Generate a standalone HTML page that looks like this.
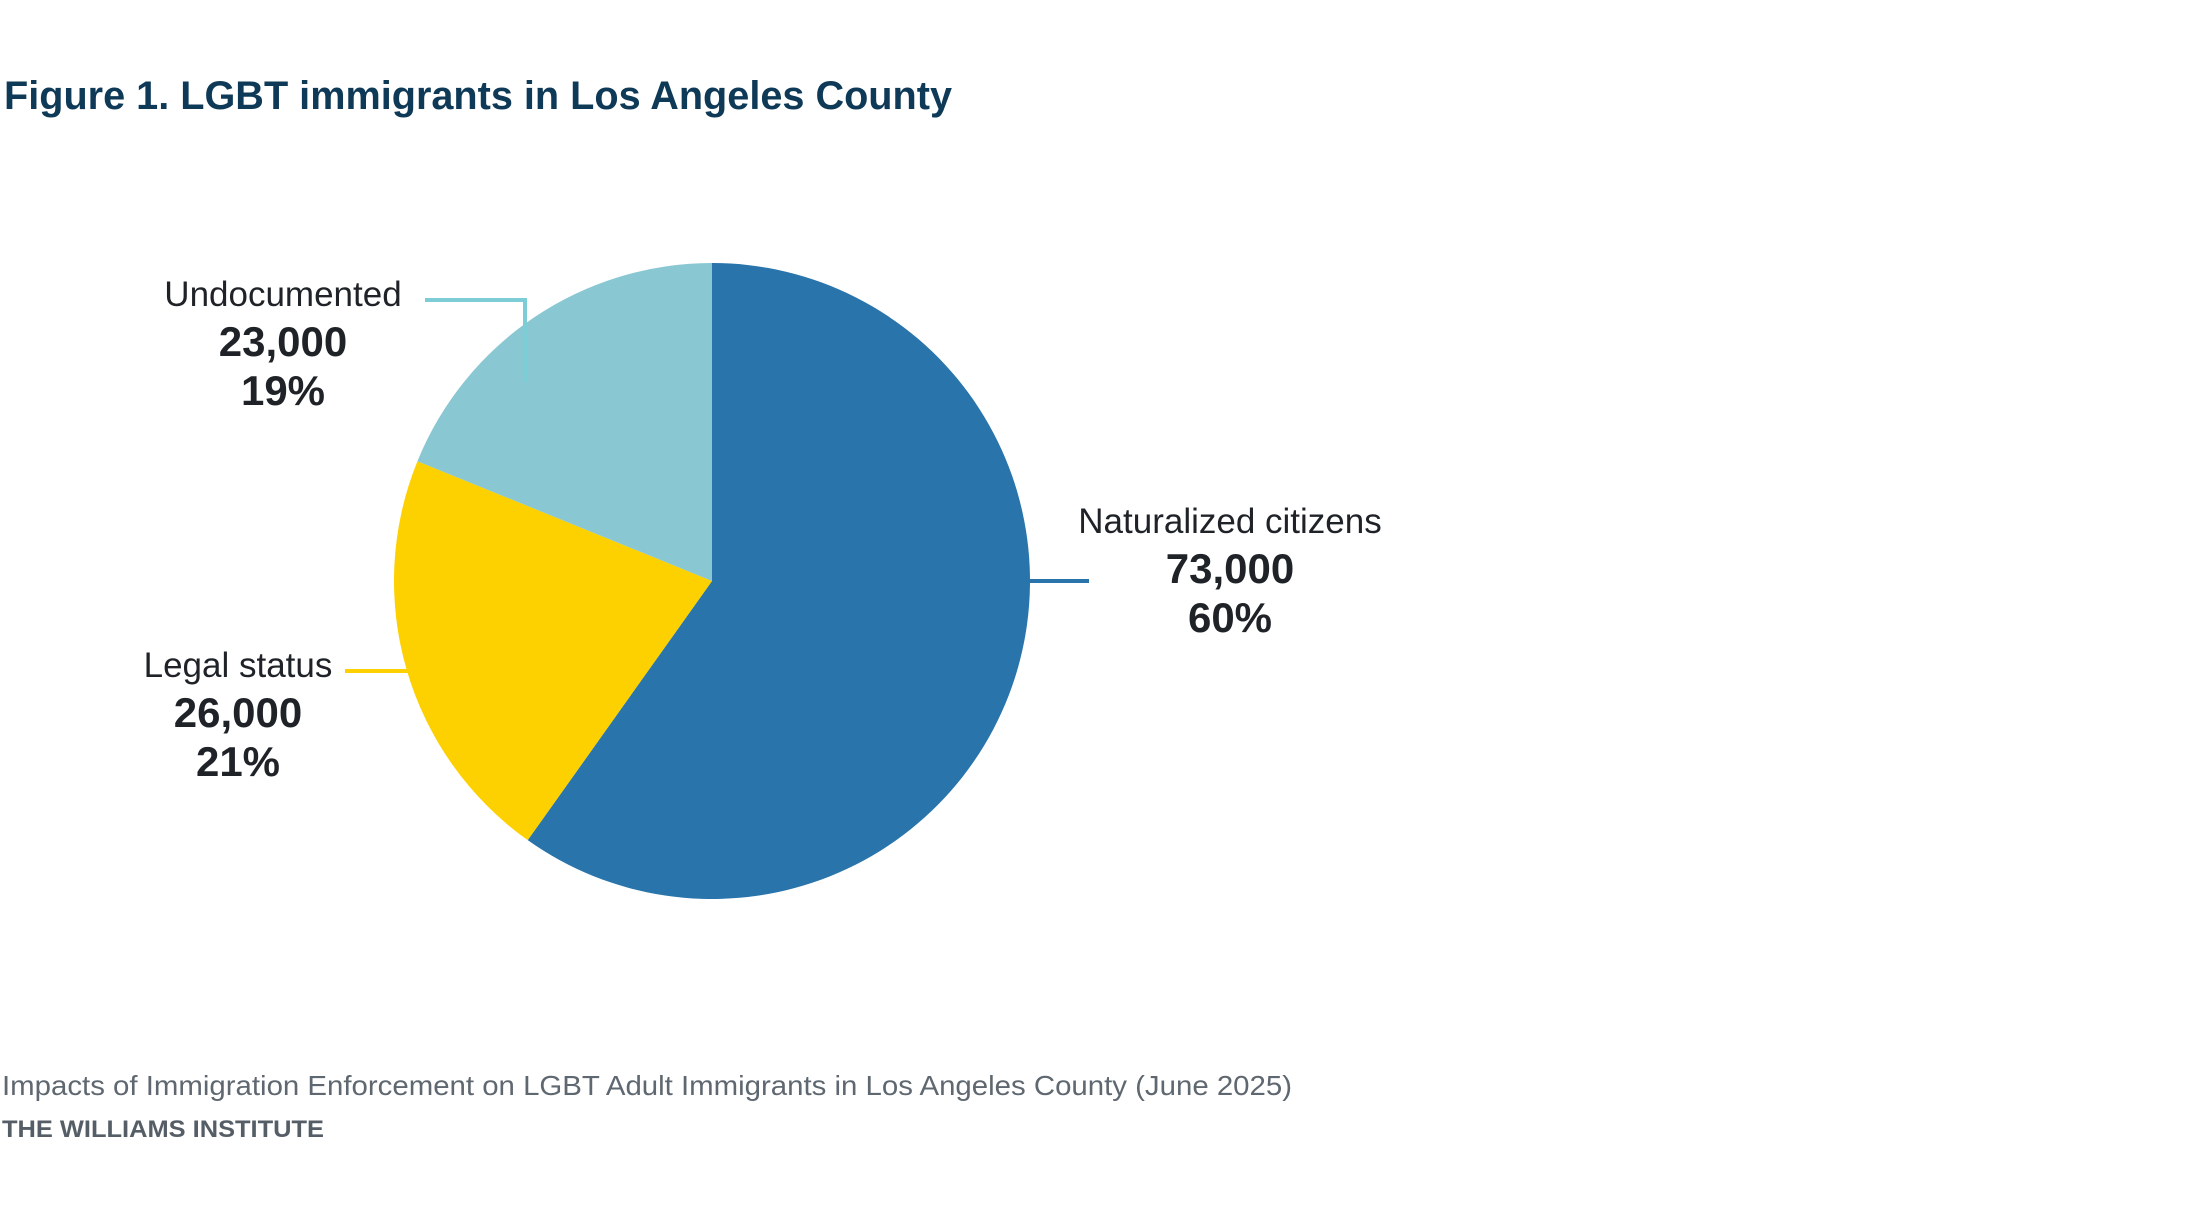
<!DOCTYPE html>
<html><head><meta charset="utf-8"><style>
html,body{margin:0;padding:0;background:#fff;}
svg{display:block;}
</style></head><body>
<svg id="chart" width="2200" height="1217" viewBox="0 0 2200 1217" xmlns="http://www.w3.org/2000/svg">
<text x="4" y="109" font-family="Liberation Sans, sans-serif" font-weight="bold" font-size="40" fill="#0e3957" textLength="948" lengthAdjust="spacingAndGlyphs">Figure 1. LGBT immigrants in Los Angeles County</text>
<g id="slices"></g>
<g id="labels"></g>
<text x="2" y="1095" font-family="Liberation Sans, sans-serif" font-size="28" fill="#5f6870" textLength="1290" lengthAdjust="spacingAndGlyphs">Impacts of Immigration Enforcement on LGBT Adult Immigrants in Los Angeles County (June 2025)</text>
<text x="2" y="1137" font-family="Liberation Sans, sans-serif" font-weight="bold" font-size="24" fill="#555e66" textLength="322" lengthAdjust="spacingAndGlyphs">THE WILLIAMS INSTITUTE</text>
</svg>
<script>
const categories = ["Naturalized citizens", "Legal status", "Undocumented"];
const values = [73000, 26000, 23000];
const valueLabels = ["73,000", "26,000", "23,000"];
const percentLabels = ["60%", "21%", "19%"];
const colors = ["#2874ab", "#fdd000", "#89c7d2"];

const NS = "http://www.w3.org/2000/svg";
const cx = 712, cy = 581, r = 318;
const total = values.reduce((a,b)=>a+b,0);
const slicesG = document.getElementById("slices");
const labelsG = document.getElementById("labels");
function pt(frac, rad){ const a = frac*2*Math.PI; return [cx + rad*Math.sin(a), cy - rad*Math.cos(a)]; }
let cum = 0;
const mids = [];
values.forEach((v,i)=>{
  const f0 = cum/total, f1 = (cum+v)/total; cum += v;
  const [x0,y0] = pt(f0,r), [x1,y1] = pt(f1,r);
  const large = (f1-f0) > 0.5 ? 1 : 0;
  const p = document.createElementNS(NS,"path");
  p.setAttribute("d", `M${cx},${cy} L${x0},${y0} A${r},${r} 0 ${large} 1 ${x1},${y1} Z`);
  p.setAttribute("fill", colors[i]);
  
  
  slicesG.appendChild(p);
  mids.push((f0+f1)/2);
});
mids.forEach((m,i)=>{
  let lx, ly, path;
  if (i === 0) {
    lx = 1230; ly = cy;
    path = `M${cx + r},${cy} H${cx + r + 59}`;
  } else if (i === 1) {
    lx = 238; ly = 671;
    path = `M${cx - Math.sqrt(r*r - (ly-cy)*(ly-cy)) + 4},${ly} H345`;
  } else {
    lx = 283; ly = 300;
    path = `M425,${ly} H525 V382`;
  }
  const ln = document.createElementNS(NS,"path");
  ln.setAttribute("d", path);
  ln.setAttribute("stroke", i===2 ? "#7ccdd6" : colors[i]);
  ln.setAttribute("stroke-width", "4");
  ln.setAttribute("fill", "none");
  
  
  labelsG.appendChild(ln);
  const base = i===0 ? 533 : (i===1 ? 677 : 306);
  const lines = [[categories[i], 35, "normal", base], [valueLabels[i], 42, "600", base+50], [percentLabels[i], 42, "600", base+99]];
  const names = ['label-category','label-value','label-percent'];
  lines.forEach((L,k)=>{
    const t = document.createElementNS(NS,"text");
    t.setAttribute("x", lx); t.setAttribute("y", L[3]);
    t.setAttribute("text-anchor","middle");
    t.setAttribute("font-family","Liberation Sans, sans-serif");
    t.setAttribute("font-size", L[1]);
    t.setAttribute("font-weight", L[2]);
    t.setAttribute("fill","#1f2328");
    t.textContent = L[0];
    
    
    labelsG.appendChild(t);
  });
});
</script>
</body></html>
